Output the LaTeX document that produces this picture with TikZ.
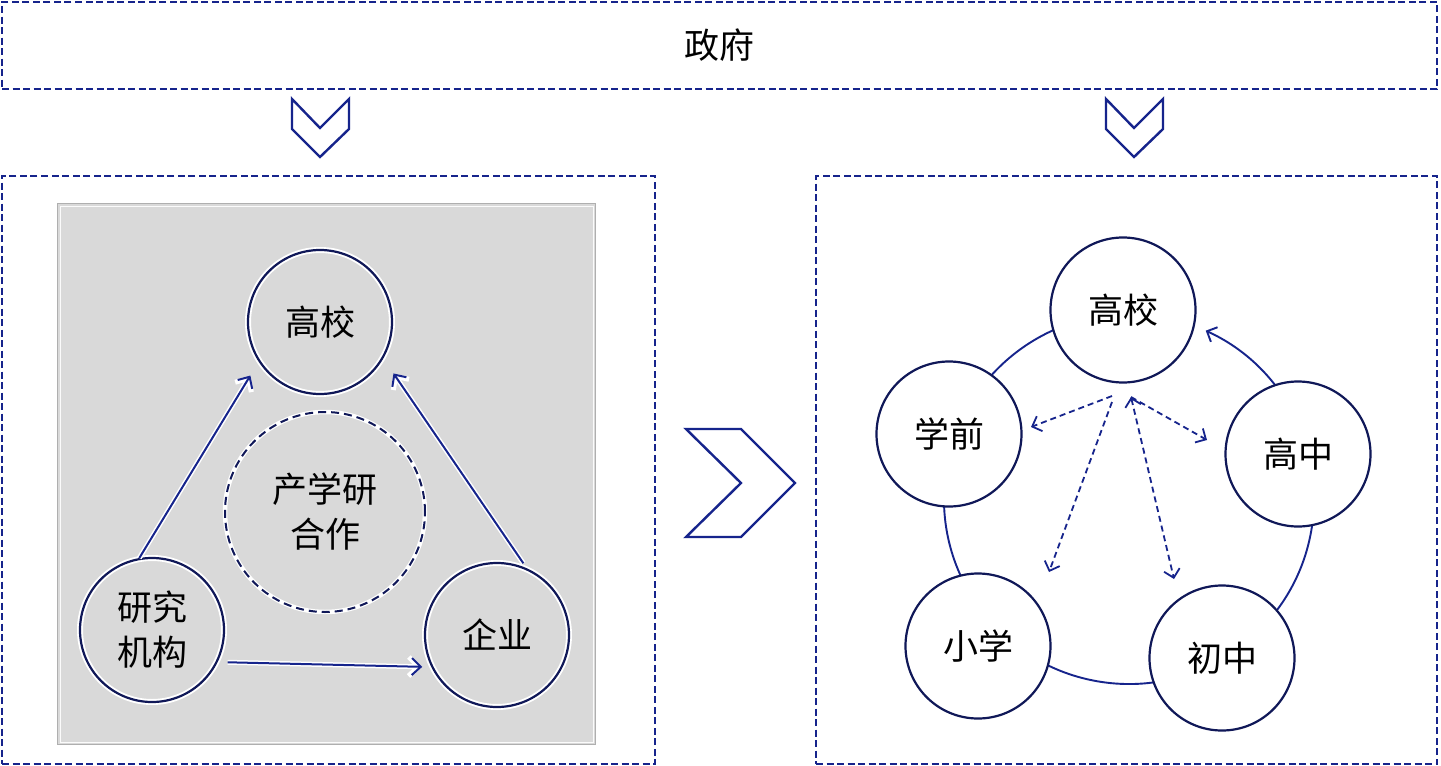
\documentclass[tikz,border=0pt]{standalone}
\usepackage{fontspec}
\setmainfont{Noto Sans CJK SC}
\usetikzlibrary{arrows.meta}
\definecolor{navy}{RGB}{22,36,140}
\definecolor{dnavy}{RGB}{16,24,88}
\definecolor{panelgray}{RGB}{217,217,217}
\definecolor{panelline}{RGB}{175,175,175}
\tikzset{
  dbox/.style={draw=navy, line width=2.6pt, dash pattern=on 7pt off 3.5pt, rectangle},
  chev/.style={draw=navy, line width=2.4pt, line join=miter},
  lcirc/.style={circle, minimum size=144pt, inner sep=0pt, draw=dnavy, line width=2.2pt,
    preaction={draw=white, line width=6pt}, align=center},
  ldash/.style={circle, minimum size=200pt, inner sep=0pt, draw=dnavy, line width=2pt,
    dash pattern=on 8pt off 5pt, preaction={draw=white, line width=4.5pt, solid}, align=center},
  larrow/.style={draw=navy, line width=2pt, -{Straight Barb[length=9pt,width=17pt]},
    preaction={draw=white, line width=5pt, -{Straight Barb[length=10pt,width=19pt]}}},
  rcirc/.style={circle, minimum size=145pt, inner sep=0pt, draw=dnavy, fill=white, line width=2.2pt},
  ringline/.style={draw=navy, line width=1.9pt},
  dasharrow/.style={draw=navy, line width=1.8pt, dash pattern=on 6pt off 4pt,
    -{Straight Barb[length=8pt,width=16pt]}},
  txt/.style={font=\fontsize{35}{45}\selectfont}
}
\begin{document}
\begin{tikzpicture}[x=1pt, y=-1pt]
\useasboundingbox (0,0) rectangle (1441,766);
\fill[white] (0,0) rectangle (1441,766);

% top box
\node[dbox, minimum width=1435pt, minimum height=87pt, txt] (gov) at (719.5,45.5) {政府};

% top chevrons
\draw[chev] (292,99) -- (292,129) -- (320,157) -- (349,129) -- (349,99) -- (320,128) -- cycle;
\draw[chev] (1106,99) -- (1106,129) -- (1134,157) -- (1163,129) -- (1163,99) -- (1134,128) -- cycle;

% panel boxes
\node[dbox, minimum width=653pt, minimum height=588pt] (lpanel) at (328.5,470) {};
\node[dbox, minimum width=621pt, minimum height=588pt] (rpanel) at (1126.5,470) {};

% middle chevron
\draw[chev] (686,429) -- (741,429) -- (795,483) -- (741,537) -- (686,537) -- (741,483) -- cycle;

% gray panel
\fill[panelgray] (57,203) rectangle (596,745);
\draw[panelline, line width=1pt] (57.5,203.5) rectangle (595.5,744.5);
\draw[white!90!panelgray, line width=1pt] (60,206) rectangle (593,742);

% left circles
\node[lcirc, txt] (ls) at (320,322) {高校};
\node[lcirc, txt] (lr) at (152,630) {研究\\机构};
\node[lcirc, txt] (le) at (497,635) {企业};
\node[ldash, txt] (lc) at (325,512) {产学研\\合作};

% left arrows
\draw[larrow, shorten >=16pt] (lr.100) -- (ls.213);
\draw[larrow, shorten <=6pt, shorten >=18pt] (le.66) -- (ls.-30);
\draw[larrow, shorten <=10pt, shorten >=9pt] (lr.-26) -- (le.206);

% right ring
\coordinate (ring) at (1129,499);
\draw[ringline, -{Straight Barb[length=8pt,width=16pt]}]
  ([shift={(-80:185)}]ring) arc[start angle=-80, end angle=-425.5, radius=185];

% right circles
\node[rcirc, txt] (rs) at (1123,310) {高校};
\node[rcirc, txt] (rp) at (949,434) {学前};
\node[rcirc, txt] (rh) at (1298,454) {高中};
\node[rcirc, txt] (rx) at (978,646) {小学};
\node[rcirc, txt] (rc) at (1222,658) {初中};

% dashed arrows
\coordinate (s1) at (1112,396);
\coordinate (s1b) at (1112,402);
\coordinate (s2) at (1131,397);
\coordinate (ta) at (1031,427);
\coordinate (tb) at (1049,572);
\coordinate (tc) at (1207,440);
\coordinate (td) at (1174,579);
\draw[dasharrow] (s1) -- (ta);
\draw[dasharrow] (s1b) -- (tb);
\draw[dasharrow] (s2) -- (tc);
\draw[dasharrow, {Straight Barb[length=8pt,width=16pt]}-{Straight Barb[length=8pt,width=16pt]}] (s2) -- (td);
\end{tikzpicture}
\end{document}
